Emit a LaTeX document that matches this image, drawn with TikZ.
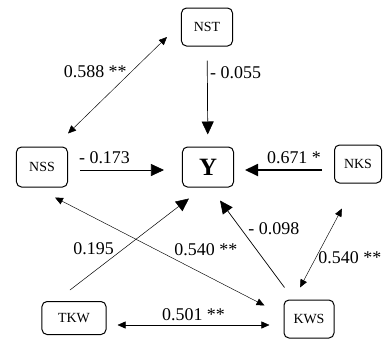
\documentclass[tikz,border=0pt]{standalone}
\usepackage{fontspec}
\setmainfont{Liberation Serif}
\usetikzlibrary{arrows.meta,calc}

\tikzset{
  var/.style={draw, line width=1bp, rounded corners=5bp, minimum width=51bp, minimum height=38bp,
    inner sep=1bp, font=\fontsize{14}{14}\selectfont},
  path/.style={line width=0.7bp, -{Triangle[length=13bp,width=12bp]}},
  dbl/.style={line width=0.45bp, {Triangle[length=8bp,width=7bp]}-{Triangle[length=8bp,width=7bp]}},
  coef/.style={font=\fontsize{18}{18}\selectfont, inner sep=1.5bp}
}

\begin{document}
\begin{tikzpicture}[x=1bp, y=-1bp]
  \useasboundingbox (0,0) rectangle (385,340);

  % draw the variables
  \node[var] (nst) at (207,27) {NST};
  \node[var, minimum height=40bp] (nss) at (42,167) {NSS};
  \node[var, minimum height=40bp, font=\fontsize{25}{25}\bfseries] (y) at (208,167) {Y};
  \node[var, minimum width=47bp] (nks) at (358,164) {NKS};
  \node[var, minimum width=64bp, minimum height=33bp] (tkw) at (74,318) {TKW};
  \node[var, minimum width=50bp] (kws) at (309,319) {KWS};

  % direct effects on Y
  \draw[path, shorten <=14bp, shorten >=12bp] (nst) -- (y)
    node[coef, pos=0.26, right=1bp] {- 0.055};
  \draw[path, shorten <=12bp, shorten >=18bp] ($(nss.east)+(0,3)$) -- ($(y.west)+(0,3)$)
    node[coef, pos=0.32, above=4bp] {- 0.173};
  \draw[path, line width=1.8bp, shorten <=12bp, shorten >=11bp] ($(nks.west)+(0,6)$) -- ($(y.east)+(0,3)$)
    node[coef, pos=0.4, above=4bp] {0.671 *};
  \draw[path, line width=0.5bp] ($(tkw.north)+(-4,-11)$) -- ($(y.south west)+(7,11)$)
    node[coef, pos=0.45, left=8bp] {0.195};
  \draw[path] ($(kws.north west)+(1,-12)$) -- ($(y.south)+(12,13)$)
    node[coef, pos=0.68, right=6bp] {- 0.098};

  % correlations
  \draw[dbl] ($(nss.north east)+(0,-13)$) -- ($(nst.west)+(-14,10)$)
    node[coef, pos=0.64, left=3bp] {0.588 **};
  \draw[dbl] ($(nss.south)+(13,10)$) -- ($(kws.north west)+(-19,6)$)
    node[coef, pos=0.72, yshift=26bp] {0.540 **};
  \draw[dbl] ($(kws.north)+(-9,-12)$) -- ($(nks.south)+(-16,25)$)
    node[coef, pos=0.375, right=1bp] {0.540 **};
  \draw[dbl] ($(tkw.east)+(11,7)$) -- ($(kws.west)+(-14,6)$)
    node[coef, pos=0.5, above=3bp] {0.501 **};

\end{tikzpicture}
\end{document}
